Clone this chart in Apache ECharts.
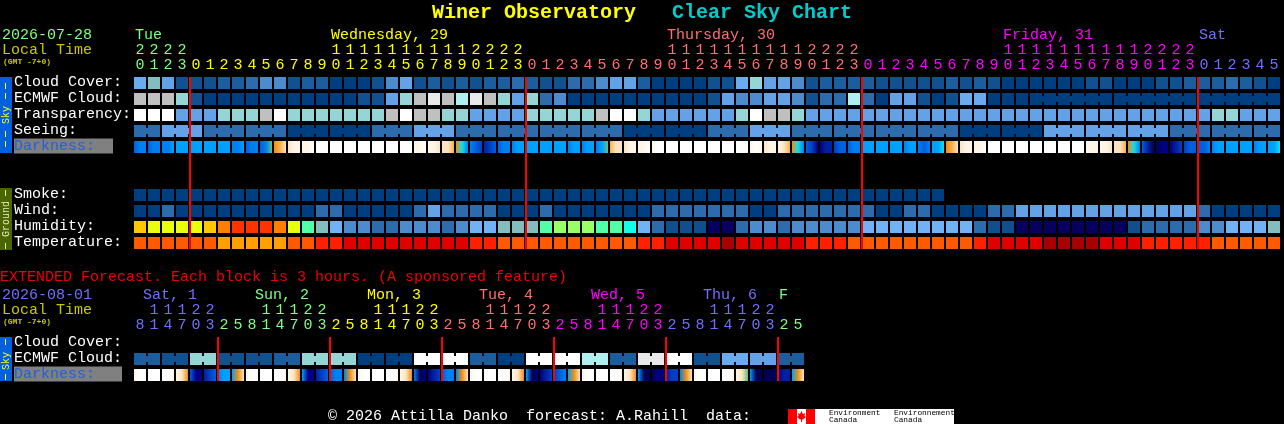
<!DOCTYPE html>
<html>
<head>
<meta charset="utf-8">
<title>Winer Observatory Clear Sky Chart</title>
<script src="https://cdn.jsdelivr.net/npm/echarts@6/dist/echarts.min.js"></script>
<style>html,body{margin:0;padding:0;background:#000}#c{width:1284px;height:424px}</style>
</head>
<body>
<div id="c"></div>
<script>
// ---------- tick labels ----------
const hourUnits = ['0','1','2','3','0','1','2','3','4','5','6','7','8','9','0','1','2','3','4','5','6','7','8','9','0','1','2','3','0','1','2','3','4','5','6','7','8','9','0','1','2','3','4','5','6','7','8','9','0','1','2','3','0','1','2','3','4','5','6','7','8','9','0','1','2','3','4','5','6','7','8','9','0','1','2','3','0','1','2','3','4','5'];
const hourTens = ['2','2','2','2','','','','','','','','','','','1','1','1','1','1','1','1','1','1','1','2','2','2','2','','','','','','','','','','','1','1','1','1','1','1','1','1','1','1','2','2','2','2','','','','','','','','','','','1','1','1','1','1','1','1','1','1','1','2','2','2','2','','','','','',''];
const hourDayIndex = [0,0,0,0,1,1,1,1,1,1,1,1,1,1,1,1,1,1,1,1,1,1,1,1,1,1,1,1,2,2,2,2,2,2,2,2,2,2,2,2,2,2,2,2,2,2,2,2,2,2,2,2,3,3,3,3,3,3,3,3,3,3,3,3,3,3,3,3,3,3,3,3,3,3,3,3,4,4,4,4,4,4];
const mainDayLabels = [[0,'Tue',0],[14,'Wednesday, 29',1],[38,'Thursday, 30',2],[62,'Friday, 31',3],[76,'Sat',4]];
const extUnits = ['8','1','4','7','0','3','2','5','8','1','4','7','0','3','2','5','8','1','4','7','0','3','2','5','8','1','4','7','0','3','2','5','8','1','4','7','0','3','2','5','8','1','4','7','0','3','2','5'];
const extTens = ['','1','1','1','2','2','','','','1','1','1','2','2','','','','1','1','1','2','2','','','','1','1','1','2','2','','','','1','1','1','2','2','','','','1','1','1','2','2','',''];
const extDayIndex = [0,0,0,0,0,0,1,1,1,1,1,1,1,1,2,2,2,2,2,2,2,2,3,3,3,3,3,3,3,3,4,4,4,4,4,4,4,4,5,5,5,5,5,5,5,5,6,6];
const extDayLabels = [[0,'Sat, 1',0],[8,'Sun, 2',1],[16,'Mon, 3',2],[24,'Tue, 4',3],[32,'Wed, 5',4],[40,'Thu, 6',5],[46,'F',6]];
const mainRows = ['Cloud Cover:','ECMWF Cloud:','Transparency:','Seeing:','Darkness:','','','Smoke:','Wind:','Humidity:','Temperature:'];
const extRows = ['Cloud Cover:','ECMWF Cloud:','Darkness:'];

// ---------- series values (levels) ----------
const cloudCover = [6,7,5,1,1,1,2,2,3,4,4,1,2,2,0,0,0,1,4,5,1, 2,1,2,1,2,2,3,2,1,1,3,3,4,5,5,2,0,0,0,0,1,1,6,8,5,5,4,1,2,2,2, 2,1,1,1,1,1,2,1,2,1,0,0,0,0,0,0,1,1,0,0,0,1,1,2,2,2,3,2,1,0];
const ecmwfCloud = [9,9,9,8,1,0,0,0,0,0,0,0,0,0,0,0,1,1,5,8,9, 10,9,12,10,9,8,5,8,3,4,0,0,0,0,0,0,0,0,0,0,1,5,4,4,5,5,4,1,3,3,12, 3,0,5,5,1,0,1,6,6,0,0,0,0,0,0,0,0,0,0,0,0,0,0,0,0,0,0,0,0,0];
const transparency = [11,11,11,5,5,5,8,8,8,9,11,8,8,8,8,8,8,8,9,11,9, 9,8,8,5,5,5,5,8,8,8,8,8,9,11,11,8,5,5,5,5,5,5,8,11,9,9,8,5,5,5,5, 5,5,5,5,5,5,5,5,5,5,5,5,5,5,5,5,5,5,5,5,5,5,5,5,5,8,8,5,5,5];
const seeing = [3,3,5,5,5,3,3,3,3,3,3,0,0,0,0,0,0,3,3,3,5,5,5,3,3,3,3,3,3,3,3,3,3,3,3,0,0,0,0,0,0,3,3,3,5,5,5,3,3,3,3,3,3,3,3,3,3,3,3,0,0,0,0,0,0,5,5,5,5,5,5,5,5,5,3,3,3,3,3,3,3,3];
const smoke = [0,0,0,0,0,0,0,0,0,0,0,0,0,0,0,0,0,0,0,0,0,0,0,0,0,0,0,0,0,0,0,0,0,0,0,0,0,0,0,0,0,0,0,0,0,0,0,0,0,0,0,0,0,0,0,0,0,0];
const wind = [0,0,3,0,0,0,0,0,0,0,0,0,0,3,3,0,0,0,0,0,3, 5,3,3,3,3,0,0,0,3,0,0,0,0,0,0,0,3,3,3,3,3,3,3,0,0,3,3,3,3,3,3, 3,0,0,3,3,0,0,0,0,3,3,5,5,5,5,5,5,5,5,5,5,5,5,5,3,0,0,0,0,0];
const humidity = [10,9,9,9,9,10,11,12,12,12,11,9,6,5,4,3,3,2,2,3,3, 3,2,3,4,4,5,5,5,6,8,8,8,6,6,7,4,2,1,1,1,0,0,2,3,3,2,3,3,3,3,3, 4,4,4,4,4,4,4,4,2,1,1,0,0,0,0,0,0,0,0,1,2,2,2,2,3,3,4,4,4,5];
const temperature = [0,0,0,0,0,0,1,1,1,1,1,0,0,2,2,3,3,3,3,3,3, 3,3,3,2,2,0,0,0,0,0,0,0,0,0,0,2,2,3,3,3,3,4,3,3,3,3,3,2,2,2,0, 0,0,0,0,0,0,0,0,2,3,3,3,3,4,4,4,4,3,3,3,2,2,2,2,2,0,0,0,0,0];
const darkness = [[9,8,8],[9,8,8],[8,8,7],[7,7,7],[7,7,7],[7,7,7],[7,7,7],[8,8,7],[9,8,8],[9,8,5],[4,3,2],[2,1,1],[1,1,0],[0,0,0],[0,0,0],[0,0,0],[0,0,0],[0,0,0],[0,0,0],[0,0,0],[1,1,0],
 [1,1,2],[2,2,3],[4,6,8],[8,9,10],[11,10,9],[9,8,8],[8,7,7],[7,7,7],[7,7,7],[7,7,7],[8,7,7],[8,7,7],[8,7,5],[3,2,2],[2,1,1],[1,1,0],[1,0,0],[0,0,0],[0,0,0],[0,0,0],[0,0,0],[0,0,0],[0,0,0],[1,0,1],[2,1,1],[1,2,3],[4,6,8],[9,10,12],[12,11,11],[10,9,9],[9,8,8],
 [7,7,7],[7,7,7],[7,7,7],[8,7,7],[8,9,8],[7,7,6],[4,3,2],[2,1,1],[1,1,0],[0,0,0],[0,0,0],[0,0,0],[0,0,0],[0,0,0],[0,0,0],[0,0,0],[1,1,1],[1,1,2],[2,2,3],[4,6,8],[9,11,13],[13,12,12],[12,11,10],[10,9,9],[9,9,8],[8,7,7],[7,7,7],[7,7,7],[8,7,7],[7,7,6]];
const extEcmwf = [2,2,1,1,8,8,1,1,1,1,2,2,8,8,8,8,0,0,0,0,11,11,11,11,2,2,0,0,11,11,11,11,12,12,2,2,10,10,11,11,1,1,6,6,5,5,2,2];
const extDarkness = [[1,0,0],[0,0,0],[0,0,1],[1,2,4],[9,12,12],[11,10,9],[8,7,7],[7,4,2],
 [1,0,0],[0,0,0],[0,0,1],[1,2,4],[7,12,12],[11,10,9],[9,8,8],[8,4,2],
 [1,0,0],[0,0,0],[0,0,1],[1,2,4],[8,13,12],[12,11,10],[9,8,8],[8,4,2],
 [1,0,0],[0,0,0],[0,0,1],[1,2,4],[7,13,12],[12,11,10],[10,9,8],[7,4,2],
 [1,0,0],[0,0,0],[0,0,1],[1,2,4],[7,13,13],[13,12,12],[11,10,10],[8,4,2],
 [1,0,0],[0,0,0],[0,0,1],[1,2,5],[7,13,13],[13,13,13],[12,11,11],[7,4,2]];
// forecast-block boundaries: a block starts at these columns
const seeingBlockStarts = [0,2,5,8,11,14,17,20,23,26,29,32,35,38,41,44,47,50,53,56,59,62,65,68,71,74,77,80];
const ecmwfBlockFirst = [64,70,76];
const extBlockStarts = [0,2,4,6,8,10,12,14,16,18,20,22,24,26,28,30,32,34,36,38,40,42,44,46];
const midnightColumns = [4,28,52,76];
const extMidnightColumns = [6,14,22,30,38,46];

// ---------- colours ----------
const skyColors = ['#003F7F','#11518F','#1C5D9E','#2C6CAC','#4C8CCC','#63A2E6','#6AABF0','#84BDBD','#95D5D5','#C0C0C0','#E9E9E9','#FFFFFF','#B0EFEF'];
const humidityColors = ['#08005F','#0F4F8E','#2C6CAC','#4C8CCC','#70B2F4','#84BDBD','#50FFA8','#0FFFE8','#99FF66','#E8FF10','#FFC800','#FF8000','#FF3300'];
const temperatureColors = ['#FF5A00','#FFA000','#FF2000','#E00000','#A80000'];
const darknessColors = ['#FFFFFF','#FFF6E8','#FDE4C0','#F8B050','#F09010','#60C080','#10E0F0','#00A0FF','#0080F0','#0060E0','#0040C0','#0020A0','#000080','#000050'];
const dayColors = ['#80FF80','#FFFF00','#FF7070','#FF00FF','#7070FF'];
const extDayColors = ['#7070FF','#80FF80','#FFFF00','#FF7070','#FF00FF','#7070FF','#80FF80'];

const MONO = '"Liberation Mono","DejaVu Sans Mono",monospace';
const F = 15;

// ---------- table of cells built from the arrays ----------
function addRow(out, values, row, palette, joinTest) {
  values.forEach(function (v, i) {
    out.push({ value: [i, row], fill: palette[v], join: !!(joinTest && i + 1 < values.length && joinTest(i + 1)) });
  });
}
function addDark(out, values, row) {
  values.forEach(function (d, i) {
    out.push({ value: [i, row], fill: new echarts.graphic.LinearGradient(0, 0, 1, 0, [
      { offset: 0, color: darknessColors[d[0]] },
      { offset: 0.5, color: darknessColors[d[1]] },
      { offset: 1, color: darknessColors[d[2]] }
    ]), join: false });
  });
}
const mainCells = [];
addRow(mainCells, cloudCover, 0, skyColors);
addRow(mainCells, ecmwfCloud, 1, skyColors, function (n) { return n > ecmwfBlockFirst[0] && ecmwfBlockFirst.indexOf(n) < 0; });
addRow(mainCells, transparency, 2, skyColors);
addRow(mainCells, seeing, 3, skyColors, function (n) { return seeingBlockStarts.indexOf(n) < 0; });
addDark(mainCells, darkness, 4);
addRow(mainCells, smoke, 7, skyColors);
addRow(mainCells, wind, 8, skyColors);
addRow(mainCells, humidity, 9, humidityColors);
addRow(mainCells, temperature, 10, temperatureColors);
const extCells = [];
addRow(extCells, extEcmwf, 1, skyColors, function (n) { return extBlockStarts.indexOf(n) < 0; });
addDark(extCells, extDarkness, 2);

function cellSeries(cells, xIdx, yIdx) {
  return {
    type: 'custom', xAxisIndex: xIdx, yAxisIndex: yIdx, silent: true, z: 2,
    encode: { x: 0, y: 1 },
    data: cells,
    renderItem: function (params, api) {
      const c = api.coord([api.value(0), api.value(1)]);
      const s = api.size([1, 1]);
      const d = cells[params.dataIndex];
      const x = c[0] - s[0] / 2 + 1, y = c[1] - s[1] / 2 + 2, w = s[0] - 2, h = s[1] - 4;
      const kids = [{ type: 'rect', shape: { x: x, y: y, width: w, height: h }, style: { fill: d.fill } }];
      if (d.join) kids.push({ type: 'rect', shape: { x: x + w, y: y + 3, width: 2, height: h - 6 }, style: { fill: d.fill } });
      return { type: 'group', children: kids };
    }
  };
}
function redSeries(cols, xIdx, yIdx, firstRow, lastRow) {
  return {
    type: 'custom', xAxisIndex: xIdx, yAxisIndex: yIdx, silent: true, z: 5,
    encode: { x: 0, y: 1 },
    data: cols.map(function (c) { return [c, firstRow]; }),
    renderItem: function (params, api) {
      const top = api.coord([api.value(0), firstRow]);
      const bot = api.coord([api.value(0), lastRow]);
      const s = api.size([1, 1]);
      return { type: 'rect', shape: { x: top[0] - s[0] / 2, y: top[1] - s[1] / 2 + 2, width: 2, height: bot[1] - top[1] + s[1] - 4 }, style: { fill: '#FF0000' } };
    }
  };
}
function dayLabelSeries(labels, colors, xIdx, yIdx, dx, dy) {
  return {
    type: 'custom', xAxisIndex: xIdx, yAxisIndex: yIdx, silent: true, z: 3,
    encode: { x: 0, y: 1 },
    data: labels.map(function (l) { return [l[0], 0]; }),
    renderItem: function (params, api) {
      const l = labels[params.dataIndex];
      const c = api.coord([l[0], 0]);
      const s = api.size([1, 1]);
      return { type: 'text', x: c[0] - s[0] / 2 + (l[1].length > 1 ? dx : 0) + 2, y: c[1] - dy,
        style: { text: l[1], fill: colors[l[2]], font: F + 'px ' + MONO, textAlign: 'left', textVerticalAlign: 'middle' } };
    }
  };
}
function xAxis(grid, data, offset, colorFn) {
  return {
    type: 'category', gridIndex: grid, position: 'top', offset: offset, data: data, boundaryGap: true,
    axisLine: { show: false }, axisTick: { show: false }, splitLine: { show: false },
    axisLabel: { show: true, interval: 0, margin: 2, hideOverlap: false, fontFamily: MONO, fontSize: F, color: colorFn }
  };
}
function yAxis(grid, data, darkW) {
  return {
    type: 'category', gridIndex: grid, inverse: true, data: data,
    axisLine: { show: false }, axisTick: { show: false }, splitLine: { show: false },
    axisLabel: {
      show: true, interval: 0, margin: 119, align: 'left', fontFamily: MONO, fontSize: F, color: '#FFFFFF',
      padding: [0, 0, 2, 0],
      formatter: function (v) { return v === 'Darkness:' ? '{dark|' + v + '}' : v; },
      rich: { dark: { backgroundColor: '#808080', color: '#1F60E0', width: darkW, height: 15, lineHeight: 15, fontFamily: MONO, fontSize: F } }
    }
  };
}
function txt(x, y, text, fill, size, weight) {
  return { type: 'text', x: x, y: y, style: { text: text, fill: fill, font: (weight ? weight + ' ' : '') + size + 'px ' + MONO, textAlign: 'left', textVerticalAlign: 'middle' } };
}
function box(x, y, w, h, fill) { return { type: 'rect', shape: { x: x, y: y, width: w, height: h }, style: { fill: fill } }; }
function vtxt(x, y, text, fill) {
  return { type: 'text', x: x, y: y, rotation: Math.PI / 2, style: { text: text, fill: fill, font: '10px ' + MONO, textAlign: 'center', textVerticalAlign: 'middle' } };
}
function dash(x, y1, y2, color) {
  return { type: 'line', shape: { x1: x, y1: y1, x2: x, y2: y2 }, style: { stroke: color, lineWidth: 1, lineDash: [6, 4] } };
}
function logoText(x, y, s) {
  return { type: 'text', x: x, y: y, style: { text: s, fill: '#000', font: '7.8px "Liberation Mono"', textVerticalAlign: 'middle' } };
}

const graphics = [
  txt(432, 12.5, 'Winer Observatory', '#FFFF00', 20, 'bold'),
  txt(672, 12.5, 'Clear Sky Chart', '#00CCCC', 20, 'bold'),
  txt(2, 35.5, '2026-07-28', '#80FF80', F),
  txt(2, 50.5, 'Local Time', '#C8C800', F),
  txt(3, 62, '(GMT -7+0)', '#C8C800', 8, 'bold'),
  box(0, 77, 12, 76, '#0060E0'), vtxt(6, 115, 'Sky', '#FFFF00'), dash(5.5, 83, 101, '#FFFF00'), dash(5.5, 131, 148, '#FFFF00'),
  box(0, 188, 12, 62, '#4A6600'), vtxt(6, 219, 'Ground', '#E8E8C0'), dash(5.5, 190, 197, '#E8E8C0'), dash(5.5, 243, 249, '#E8E8C0'),
  txt(0, 277, 'EXTENDED Forecast. Each block is 3 hours. (A sponsored feature)', '#F00000', F),
  txt(2, 295.5, '2026-08-01', '#7070FF', F),
  txt(2, 310.5, 'Local Time', '#C8C800', F),
  txt(3, 322, '(GMT -7+0)', '#C8C800', 8, 'bold'),
  box(0, 337, 12, 44, '#0060E0'), vtxt(6, 361, 'Sky', '#FFFF00'), dash(5.5, 339, 345, '#FFFF00'), dash(5.5, 374, 380, '#FFFF00'),
  txt(328, 416, '\u00A9 2026 Attilla Danko  forecast: A.Rahill  data:', '#FFFFFF', F),
  box(788, 409, 166, 15, '#FFFFFF'), box(788, 409, 9, 15, '#FF0000'), box(806, 409, 9, 15, '#FF0000'),
  { type: 'polygon', shape: { points: [[801.5,411],[803,414],[805,413],[804.5,416],[806,417],[803,419.5],[802,419.5],[802,422],[801,422],[801,419.5],[800,419.5],[797,417],[798.5,416],[798,413],[800,414]] }, style: { fill: '#FF0000' } },
  logoText(829, 413, 'Environment'), logoText(829, 420, 'Canada'),
  logoText(894, 413, 'Environnement'), logoText(894, 420, 'Canada')
];

const chart = echarts.init(document.getElementById('c'), null, { renderer: 'canvas', width: 1284, height: 424 });
chart.setOption({
  backgroundColor: '#000000',
  animation: false,
  tooltip: { show: false },
  grid: [
    { left: 133, top: 75, width: 1148, height: 176, containLabel: false },
    { left: 133, top: 335, width: 672, height: 48, containLabel: false }
  ],
  xAxis: [
    xAxis(0, hourUnits, 0, function (v, i) { return dayColors[hourDayIndex[i]]; }),
    xAxis(0, hourTens, 15, function (v, i) { return dayColors[hourDayIndex[i]]; }),
    xAxis(1, extUnits, 0, function (v, i) { return extDayColors[extDayIndex[i]]; }),
    xAxis(1, extTens, 15, function (v, i) { return extDayColors[extDayIndex[i]]; })
  ],
  yAxis: [yAxis(0, mainRows, 99), yAxis(1, extRows, 108)],
  graphic: graphics,
  series: [
    cellSeries(mainCells, 0, 0),
    cellSeries(extCells, 2, 1),
    redSeries(midnightColumns, 0, 0, 0, 10),
    redSeries(extMidnightColumns, 2, 1, 0, 2),
    dayLabelSeries(mainDayLabels, dayColors, 0, 0, 0, 47.5),
    dayLabelSeries(extDayLabels, extDayColors, 2, 1, 8, 47.5)
  ]
});
</script>
</body>
</html>
